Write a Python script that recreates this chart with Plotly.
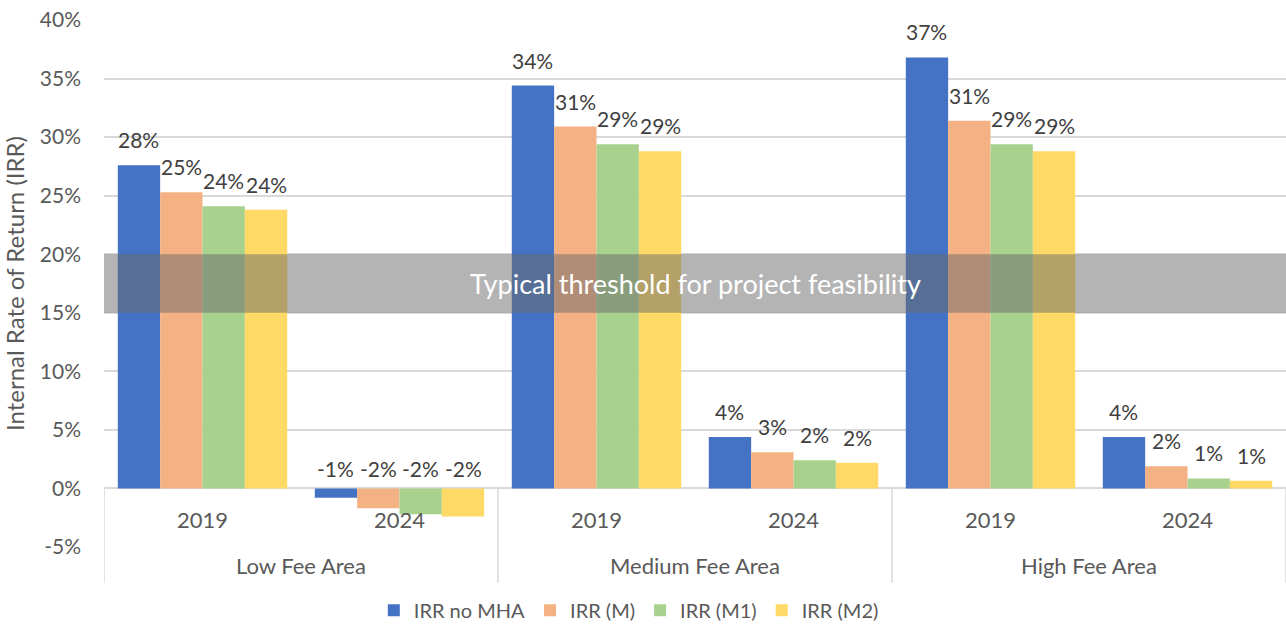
import plotly.graph_objects as go

# ---------------- data ----------------
areas = ["Low Fee Area", "Medium Fee Area", "High Fee Area"]
years = ["2019", "2024"]
series_names = ["IRR no MHA", "IRR (M)", "IRR (M1)", "IRR (M2)"]
irr_no_mha = [27.6, -0.8, 34.4, 4.4, 36.8, 4.4]
irr_m = [25.3, -1.7, 30.9, 3.1, 31.4, 1.9]
irr_m1 = [24.1, -2.2, 29.4, 2.4, 29.4, 0.85]
irr_m2 = [23.8, -2.4, 28.8, 2.2, 28.8, 0.65]
threshold_low = 15
threshold_high = 20
threshold_label = "Typical threshold for project feasibility"
y_axis_title = "Internal Rate of Return (IRR)"
y_ticks = [-5, 0, 5, 10, 15, 20, 25, 30, 35, 40]
y_tick_labels = ["-5%", "0%", "5%", "10%", "15%", "20%", "25%", "30%", "35%", "40%"]

colors = ["#4472C4", "#F4B183", "#A9D18E", "#FFD966"]
series_values = [irr_no_mha, irr_m, irr_m1, irr_m2]

FONT = "Lato"
GRAY = "#595959"
LABEL = "#404040"
GRID = "#d9d9d9"
BARGAP = 0.14

n_cat = len(areas) * len(years)
xs = list(range(n_cat))

fig = go.Figure()
for name, vals, col in zip(series_names, series_values, colors):
    fig.add_trace(go.Bar(x=xs, y=vals, name=name, marker=dict(color=col, line=dict(width=0))))

annotations = []
# data labels
bw = (1 - BARGAP) / len(series_names)
for j, vals in enumerate(series_values):
    for i, v in enumerate(vals):
        annotations.append(dict(
            x=i + (j - (len(series_names) - 1) / 2) * bw, y=max(v, 0), xref="x", yref="y",
            text=f"{round(v):.0f}%", showarrow=False, yanchor="bottom",
            yshift=11 if v >= 0 else 5,
            font=dict(family=FONT, size=21, color=LABEL)))

# year labels (inside plot, below zero line)
for i in xs:
    annotations.append(dict(x=i, y=-2.65, xref="x", yref="y", text=years[i % len(years)],
                            showarrow=False, font=dict(family=FONT, size=22, color=GRAY)))
# area labels
for k, a in enumerate(areas):
    annotations.append(dict(x=k * len(years) + (len(years) - 1) / 2, y=-0.036, xref="x", yref="paper",
                            text=a, showarrow=False, yanchor="middle",
                            font=dict(family=FONT, size=22, color=GRAY)))
# band label
annotations.append(dict(x=0.5, y=(threshold_low + threshold_high) / 2, xref="paper", yref="y",
                        text=threshold_label, showarrow=False,
                        font=dict(family=FONT, size=27, color="white")))

shapes = [dict(type="rect", xref="paper", yref="y", x0=0, x1=1, y0=threshold_low, y1=threshold_high,
               fillcolor="rgba(105,105,105,0.5)", line=dict(width=0), layer="above")]
ymin, ymax = y_ticks[0], y_ticks[-1]
zero_paper = (0 - ymin) / (ymax - ymin)
for k in range(len(areas) + 1):
    xd = k * len(years) - 0.5
    shapes.append(dict(type="line", xref="x", yref="paper", x0=xd, x1=xd, y0=zero_paper, y1=-0.068,
                       line=dict(color=GRID, width=1.5), layer="below"))

fig.update_layout(
    width=1286, height=625,
    margin=dict(l=104, r=0, t=20, b=78, autoexpand=False),
    paper_bgcolor="white", plot_bgcolor="white",
    barmode="group", bargap=BARGAP, bargroupgap=0,
    font=dict(family=FONT, size=21, color=GRAY),
    xaxis=dict(range=[-0.5, n_cat - 0.5], showticklabels=False, showgrid=False, zeroline=False,
               showline=False, ticks=""),
    yaxis=dict(range=[ymin, ymax], tickvals=y_ticks, ticktext=y_tick_labels, showgrid=True,
               gridcolor=GRID, gridwidth=1.5, zeroline=True, zerolinecolor=GRID, zerolinewidth=1.5,
               ticks="", ticklabelstandoff=22, tickfont=dict(family=FONT, size=21, color=GRAY),
               title=dict(text=y_axis_title, font=dict(family=FONT, size=24, color=GRAY), standoff=10)),
    legend=dict(orientation="h", x=0.444, y=-0.12, xanchor="center", yanchor="middle",
                font=dict(family=FONT, size=20, color=GRAY), itemwidth=30, traceorder="normal"),
    annotations=annotations,
    shapes=shapes,
)

fig.write_html("out.html", config={"displayModeBar": False},
               post_script="document.body.style.margin='0';document.body.style.overflow='hidden';")
